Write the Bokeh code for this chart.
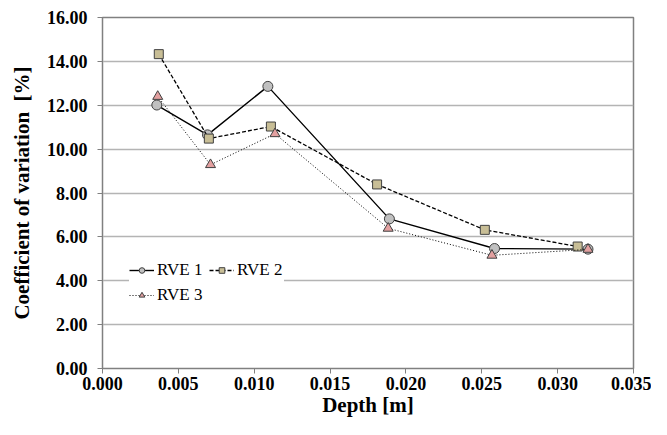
from bokeh.plotting import figure
from bokeh.models import Legend, LegendItem, FixedTicker, NumeralTickFormatter, ColumnDataSource
from bokeh.embed import file_html
from bokeh.resources import INLINE

depth_1 = [0.00358, 0.00692, 0.01090, 0.01891, 0.02584, 0.03200]
cov_1 = [12.01, 10.65, 12.86, 6.82, 5.47, 5.44]
depth_2 = [0.00371, 0.00701, 0.01110, 0.01810, 0.02520, 0.03132]
cov_2 = [14.33, 10.48, 11.03, 8.39, 6.32, 5.56]
depth_3 = [0.00364, 0.00712, 0.01137, 0.01883, 0.02567, 0.03200]
cov_3 = [12.40, 9.29, 10.70, 6.39, 5.16, 5.43]
series_names = ["RVE 1", "RVE 2", "RVE 3"]
x_ticks = [0.0, 0.005, 0.010, 0.015, 0.020, 0.025, 0.030, 0.035]
y_ticks = [0, 2, 4, 6, 8, 10, 12, 14, 16]

FONT = "Liberation Serif"

p = figure(width=651, height=419, output_backend="svg", toolbar_location=None,
           x_range=(0.0, 0.035), y_range=(0, 16),
           min_border_left=102, min_border_right=18, min_border_top=17, min_border_bottom=50)
p.background_fill_color = "white"
p.border_fill_color = "white"
p.outline_line_color = "#808080"
p.outline_line_width = 1.5

p.xgrid.grid_line_color = None
p.ygrid.grid_line_color = "#B4B4B4"
p.ygrid.grid_line_width = 1.5

p.axis.axis_line_color = "#808080"
p.axis.major_tick_line_color = "#808080"
p.axis.minor_tick_line_color = None
p.axis.major_tick_in = 0
p.axis.major_tick_out = 5
p.axis.major_label_text_font = FONT
p.axis.major_label_text_font_style = "bold"
p.axis.major_label_text_color = "black"
p.axis.major_label_text_font_size = "18px"
p.axis.axis_label_text_font = FONT
p.axis.axis_label_text_font_style = "bold"
p.axis.axis_label_text_font_size = "21px"
p.axis.axis_label_text_color = "black"

p.xaxis.ticker = FixedTicker(ticks=x_ticks)
p.yaxis.ticker = FixedTicker(ticks=y_ticks)
p.xaxis.formatter = NumeralTickFormatter(format="0.000")
p.yaxis.formatter = NumeralTickFormatter(format="0.00")
p.xaxis.axis_label = "Depth [m]"
p.yaxis.axis_label = "Coefficient of variation\u00a0\u00a0[%]"
p.xaxis.major_label_standoff = 3
p.yaxis.major_label_standoff = 10
p.xaxis.axis_label_standoff = 0
p.yaxis.axis_label_standoff = 10

s1 = ColumnDataSource(dict(x=depth_1, y=cov_1))
s2 = ColumnDataSource(dict(x=depth_2, y=cov_2))
s3 = ColumnDataSource(dict(x=depth_3, y=cov_3))

l1 = p.line("x", "y", source=s1, line_color="black", line_width=1.4)
m1 = p.scatter("x", "y", source=s1, marker="circle", size=10, fill_color="#C0C0C0",
               line_color="#404040", line_width=1)
l2 = p.line("x", "y", source=s2, line_color="black", line_width=1.3, line_dash="4 2")
m2 = p.scatter("x", "y", source=s2, marker="square", size=9, fill_color="#C8BE96",
               line_color="#404040", line_width=1)
l3 = p.line("x", "y", source=s3, line_color="black", line_width=1, line_dash="1 2")
m3 = p.scatter("x", "y", source=s3, marker="triangle", size=10, fill_color="#E3A0A0",
               line_color="#404040", line_width=1)

legend = Legend(items=[LegendItem(label=series_names[0], renderers=[l1, m1]),
                       LegendItem(label=series_names[1], renderers=[l2, m2]),
                       LegendItem(label=series_names[2], renderers=[l3, m3])],
                location=(27, 63), ncols=2, orientation="horizontal")
legend.label_text_font = FONT
legend.label_text_font_size = "17px"
legend.label_text_color = "black"
legend.border_line_color = None
legend.background_fill_color = "white"
legend.background_fill_alpha = 1
legend.glyph_width = 25
legend.glyph_height = 14
legend.label_width = 47
legend.label_height = 18
legend.spacing = 5
legend.padding = 4
legend.label_standoff = 3
legend.margin = 0
p.add_layout(legend, "center")

open("out.html", "w").write(file_html(p, INLINE))
